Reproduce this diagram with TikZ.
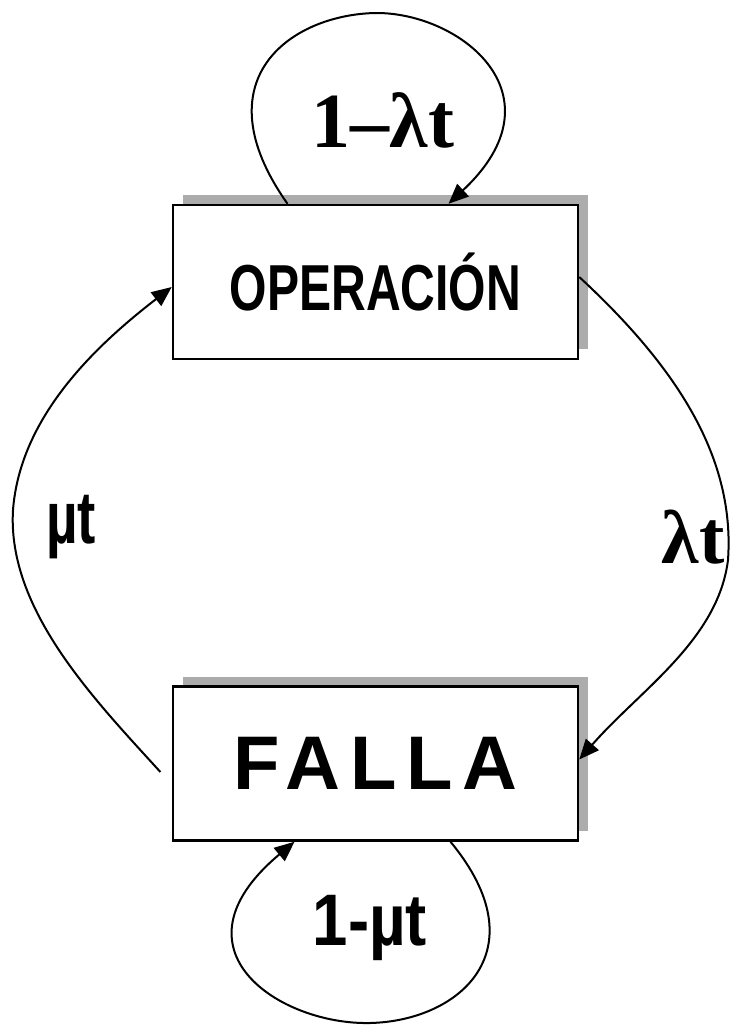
\documentclass[tikz,border=0pt]{standalone}
\usepackage{fontspec}
\setmainfont{Liberation Serif}
\setsansfont{Liberation Sans}
\newfontfamily\narrowsans[FakeStretch=0.74]{Liberation Sans}
\newfontfamily\semisans[FakeStretch=0.87]{Liberation Sans}
\newfontfamily\spacedsans[LetterSpace=13]{Liberation Sans}
\usetikzlibrary{positioning, arrows.meta, shadows}
\tikzset{state/.style={draw, line width=2.5pt, fill=white, minimum width=405pt, minimum height=154pt, inner sep=0pt,
  general shadow={shadow xshift=10pt, shadow yshift=10pt, fill=gray!65}},
flow/.style={-{Triangle[length=20pt, width=17pt]}, line width=2pt},
lbl_s/.style={font=\fontsize{78}{80}\selectfont\bfseries, anchor=base, inner sep=0pt},
lbl_n/.style={font=\fontsize{74}{76}\selectfont\narrowsans\bfseries, anchor=base, inner sep=0pt}}

\begin{document}
\begin{tikzpicture}[x=1pt, y=-1pt]
  \useasboundingbox (0,0) rectangle (729,1026);
  % Estado 1
  \node[state, font=\fontsize{65}{68}\selectfont\narrowsans\bfseries] (op) at (375.5,282) {OPERACIÓN};
  % Estado 2
  \node[state, below=325pt of op, font=\fontsize{76}{80}\selectfont\spacedsans\bfseries] (fa) {FALLA};
  % Lazos
  \draw[flow] ([xshift=-88pt]op.north) .. controls (200,80) and (290,15) .. (375,13)
    .. controls (460,12) and (565,95) .. ([xshift=73pt]op.north);
  \draw[flow] ([xshift=75pt]fa.south) .. controls (540,950) and (460,1021) .. (370,1023)
    .. controls (280,1025) and (165,950) .. ([xshift=-81pt]fa.south);
  \node[lbl_s] (l_op) at (383,147) {1–λt};
  \node[lbl_n, font=\fontsize{73}{76}\selectfont\semisans\bfseries] (l_fa) at (370,945) {1-µt};
  % Transiciones
  \draw[flow] ([yshift=5pt]op.east) .. controls (680,370) and (735,460) .. (728,560)
    .. controls (718,640) and (640,690) .. ([yshift=4pt]fa.east);
  \draw[flow, shorten <=2pt] ([xshift=-10pt, yshift=-10pt]fa.west) .. controls (95,700) and (7,610) .. (13,510)
    .. controls (20,420) and (90,350) .. ([yshift=-5pt]op.west);
  \node[lbl_s, font=\fontsize{76}{78}\selectfont\bfseries] (l_falla) at (693,563) {λt};
  \node[lbl_n] (l_rep) at (71,543) {µt};
\end{tikzpicture}
\end{document}
